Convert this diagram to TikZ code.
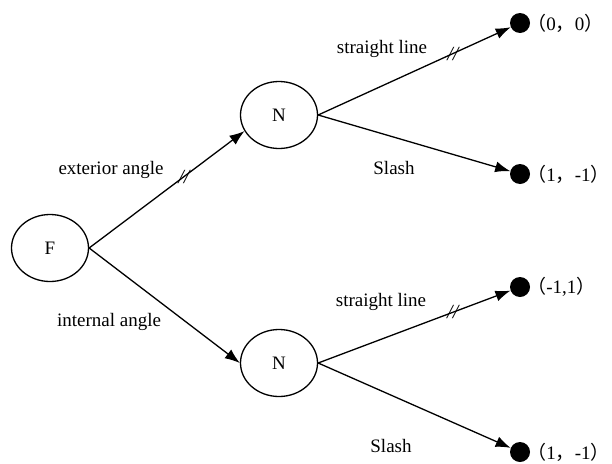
\documentclass[tikz,border=0pt]{standalone}
\usepackage{fontspec}
\setmainfont{Liberation Serif}
\newfontfamily\cjk{Noto Sans CJK SC}
\usetikzlibrary{shapes.geometric,arrows.meta}
\newcommand{\lpar}{{\cjk （}}
\newcommand{\rpar}{{\cjk ）}}
\newcommand{\fcomma}{{\cjk ，}}
\begin{document}
\begin{tikzpicture}[x=1pt, y=-1pt, font=\fontsize{19}{21}\selectfont,
  state/.style={draw, line width=1.3pt, ellipse, minimum width=77pt, minimum height=67pt, inner sep=0pt},
  leaf/.style={circle, fill, minimum size=20pt, inner sep=0pt},
  edge/.style={-{Latex[length=15pt,width=11pt]}, line width=1.3pt},
  tick/.style={font=\fontsize{20}{20}\selectfont\itshape, inner sep=0pt}]
\useasboundingbox (0,0) rectangle (612,463);
\node[state] (F) at (50,248) {F};
\node[state] (N1) at (279,115) {N};
\node[state] (N2) at (279,363) {N};
\node[leaf] (a) at (520,23) {};
\node[leaf] (b) at (520,174) {};
\node[leaf] (c) at (520,287) {};
\node[leaf] (d) at (520,452) {};
\node[anchor=west, inner sep=0pt] (la) at ([xshift=-3pt]a.east) {\lpar 0\fcomma 0\rpar};
\node[anchor=west, inner sep=0pt] (lb) at ([xshift=-3pt]b.east) {\lpar 1\fcomma -1\rpar};
\node[anchor=west, inner sep=0pt] (lc) at ([xshift=-3pt]c.east) {\lpar -1,1\rpar};
\node[anchor=west, inner sep=0pt] (ld) at ([xshift=-3pt]d.east) {\lpar 1\fcomma -1\rpar};
\draw[edge] (F.east) -- (N1.205) node[tick, pos=0.61] (m1) {//};
\draw[edge] (F.east) -- (N2.west);
\draw[edge] (N1.east) -- (a) node[tick, pos=0.7] (m2) {//};
\draw[edge] (N1.east) -- (b);
\draw[edge] (N2.east) -- (c) node[tick, pos=0.7] (m3) {//};
\draw[edge] (N2.east) -- (d);
\node (ext) at (111,170) {exterior angle};
\node (int) at (109,322) {internal angle};
\node (s1) at (382,49) {straight line};
\node (sl1) at (394,168) {Slash};
\node (s2) at (381,302) {straight line};
\node (sl2) at (391,446) {Slash};
\end{tikzpicture}
\end{document}
